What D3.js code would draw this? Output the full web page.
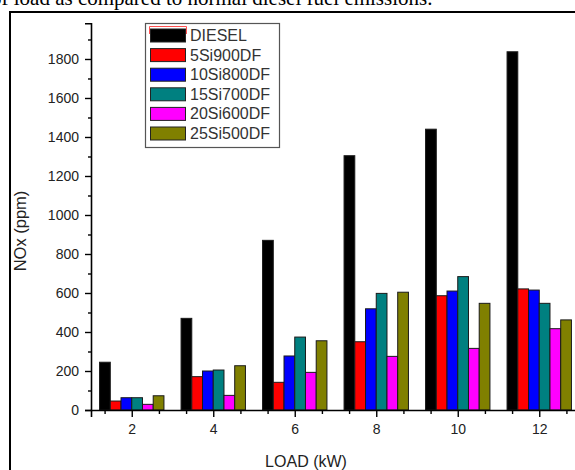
<!DOCTYPE html>
<html>
<head>
<meta charset="utf-8">
<script src="https://cdn.jsdelivr.net/npm/d3@7"></script>
<style>
  html, body { margin: 0; padding: 0; background: #fff; }
  svg { display: block; }
</style>
</head>
<body>
<svg id="chart" width="575" height="470"></svg>
<script>
// Engine NOx emissions by load for each fuel blend
const loads = [2, 4, 6, 8, 10, 12];
const seriesNames = ["DIESEL", "5Si900DF", "10Si800DF", "15Si700DF", "20Si600DF", "25Si500DF"];
const seriesColors = ["#000000", "#ff0000", "#0000ff", "#008080", "#ff00ff", "#808000"];
const diesel    = [245, 470, 870, 1304, 1440, 1837];
const si5_900   = [46, 171, 142, 350, 586, 621];
const si10_800  = [63, 200, 277, 519, 610, 615];
const si15_700  = [63, 205, 374, 598, 684, 547];
const si20_600  = [29, 75, 193, 275, 316, 417];
const si25_500  = [73, 227, 355, 604, 547, 462];
const yTicks = [0, 200, 400, 600, 800, 1000, 1200, 1400, 1600, 1800];
const xTicks = [2, 4, 6, 8, 10, 12];

const series = [diesel, si5_900, si10_800, si15_700, si20_600, si25_500];

const svg = d3.select("#chart");
const font = "'Liberation Sans', Arial, sans-serif";

// caption line running above the figure frame
svg.append("text")
  .attr("x", -9).attr("y", 5)
  .attr("font-family", "'Liberation Serif', 'Times New Roman', serif")
  .attr("font-size", 21)
  .attr("fill", "#000")
  .text("of load as compared to normal diesel fuel emissions.");

// figure frame
svg.append("rect")
  .attr("x", 10).attr("y", 12).attr("width", 620).attr("height", 520)
  .attr("fill", "none").attr("stroke", "#000").attr("stroke-width", 2);

const x = d3.scaleLinear().domain([1, 13]).range([91, 580]);
const y = d3.scaleLinear().domain([0, 1983]).range([410, 23.3]);

// bars: six per load, grouped around the load value
const groupWidth = 1.58;
const barW = groupWidth / series.length;
const g = svg.append("g");
series.forEach((vals, si) => {
  g.selectAll(null).data(loads.map((l, i) => ({ load: l, v: vals[i] })))
    .enter().append("rect")
    .attr("x", d => x(d.load - groupWidth / 2 + si * barW))
    .attr("width", d => x(d.load - groupWidth / 2 + (si + 1) * barW) - x(d.load - groupWidth / 2 + si * barW))
    .attr("y", d => y(d.v))
    .attr("height", d => y(0) - y(d.v))
    .attr("fill", seriesColors[si])
    .attr("stroke", "#1a1a1a")
    .attr("stroke-width", 1);
});

// y axis
const yAxis = svg.append("g").attr("transform", "translate(91,0)")
  .call(d3.axisLeft(y).tickValues(yTicks).tickSize(6).tickPadding(6).tickFormat(d3.format("d")));
svg.append("g").attr("transform", "translate(91,0)")
  .call(d3.axisLeft(y).tickValues(d3.range(100, 2000, 200)).tickSize(3).tickFormat(""))
  .select(".domain").remove();

// x axis
const xAxis = svg.append("g").attr("transform", "translate(0,410)")
  .call(d3.axisBottom(x).tickValues(xTicks).tickSize(7).tickPadding(7).tickFormat(d3.format("d")));
const minorX = [];
for (let v = 4 / 3; v < 13; v += 2 / 3) {
  if (Math.abs(v - Math.round(v)) > 0.1 || Math.round(v) % 2 === 1) minorX.push(v);
}
svg.append("g").attr("transform", "translate(0,410)")
  .call(d3.axisBottom(x).tickValues(minorX).tickSize(4).tickFormat(""))
  .select(".domain").remove();

svg.selectAll(".domain").attr("stroke", "#000").attr("stroke-width", 1.6);
svg.selectAll(".tick line").attr("stroke", "#000").attr("stroke-width", 1.4);
svg.selectAll(".tick text")
  .attr("font-family", font).attr("font-size", 14).attr("fill", "#222");

// axis titles
svg.append("text")
  .attr("x", 306).attr("y", 467)
  .attr("text-anchor", "middle")
  .attr("font-family", font).attr("font-size", 16).attr("fill", "#222")
  .text("LOAD (kW)");
svg.append("text")
  .attr("transform", "translate(26,231) rotate(-90)")
  .attr("text-anchor", "middle")
  .attr("font-family", font).attr("font-size", 16.5).attr("fill", "#222")
  .text("NOx (ppm)");

// legend
const lg = svg.append("g");
lg.append("rect")
  .attr("x", 145.5).attr("y", 23.5).attr("width", 134).attr("height", 124)
  .attr("fill", "#fff").attr("stroke", "#555").attr("stroke-width", 1.2);
seriesNames.forEach((name, i) => {
  const cy = 35.5 + i * 19.6;
  lg.append("rect")
    .attr("x", 150.5).attr("y", cy - 6.5).attr("width", 35).attr("height", 13)
    .attr("fill", seriesColors[i]).attr("stroke", "#222").attr("stroke-width", 1);
  lg.append("text")
    .attr("x", 190).attr("y", cy + 5.5)
    .attr("font-family", font).attr("font-size", 16).attr("fill", "#333")
    .text(name);
});
// highlight outline on the first legend swatch
lg.append("path")
  .attr("d", "M149.5,34 V26.5 H186.5 V34")
  .attr("fill", "none").attr("stroke", "#ff5050").attr("stroke-width", 1);
</script>
</body>
</html>
